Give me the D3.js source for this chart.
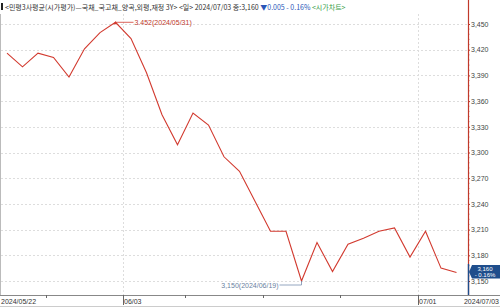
<!DOCTYPE html>
<html><head><meta charset="utf-8">
<script src="https://cdn.jsdelivr.net/npm/d3@7/dist/d3.min.js"></script>
<style>body{margin:0;background:#fff;}svg{display:block;}</style>
</head><body>
<svg id="c" width="500" height="307"></svg>
<script>
const dates = ["2024/05/22","2024/05/23","2024/05/24","2024/05/27","2024/05/28","2024/05/29","2024/05/30","2024/05/31",
  "2024/06/03","2024/06/04","2024/06/05","2024/06/07","2024/06/10","2024/06/11","2024/06/12","2024/06/13","2024/06/14",
  "2024/06/17","2024/06/18","2024/06/19","2024/06/20","2024/06/21","2024/06/24","2024/06/25","2024/06/26","2024/06/27","2024/06/28",
  "2024/07/01","2024/07/02","2024/07/03"];
const values = [3416,3400,3416,3411,3388,3421,3440,3452,3433,3393,3344,3309,3346,3332,3295,3278,3243,3208,3208,3150,3195,3161,3193,3200,3208,3212,3178,3208,3165,3160];
const yTicks = [3150,3180,3210,3240,3270,3300,3330,3360,3390,3420,3450];
const xLabels = [{i:0,t:"2024/05/22"},{i:7.5,t:"06/03"},{i:26.5,t:"07/01"}];
const weekTicks = [2.5,11.5,16.5,21.5];
const monthGrid = [7.5,26.5];

const svg = d3.select("#c");
const x = d3.scaleLinear().domain([0, dates.length-1]).range([7, 456.5]);
const y = d3.scaleLinear().domain([3150, 3450]).range([281, 24]);
const fmt = v => d3.format(",")(v);
const axisX = 468, bottom = 295;

// borders
svg.append("line").attr("x1",0.5).attr("x2",0.5).attr("y1",14).attr("y2",bottom).attr("stroke","#bbb");
svg.append("line").attr("x1",0).attr("x2",500).attr("y1",bottom+0.5).attr("y2",bottom+0.5).attr("stroke","#888");
svg.append("line").attr("x1",0).attr("x2",500).attr("y1",306.5).attr("y2",306.5).attr("stroke","#ccc");

// grid
svg.append("g").selectAll("line").data(yTicks).join("line")
  .attr("x1",1).attr("x2",axisX).attr("y1",d=>Math.round(y(d))+0.5).attr("y2",d=>Math.round(y(d))+0.5)
  .attr("stroke","#ddd").attr("stroke-dasharray","2,2");
svg.append("g").selectAll("line").data(monthGrid).join("line")
  .attr("x1",d=>Math.round(x(d))+0.5).attr("x2",d=>Math.round(x(d))+0.5).attr("y1",14).attr("y2",bottom)
  .attr("stroke","#ddd").attr("stroke-dasharray","2,2");

// x axis ticks & labels
svg.append("g").selectAll("line").data(weekTicks).join("line")
  .attr("x1",d=>Math.round(x(d))+0.5).attr("x2",d=>Math.round(x(d))+0.5).attr("y1",bottom).attr("y2",bottom+3).attr("stroke","#666");
svg.append("g").selectAll("line").data(monthGrid).join("line")
  .attr("x1",d=>Math.round(x(d))+0.5).attr("x2",d=>Math.round(x(d))+0.5).attr("y1",bottom).attr("y2",bottom+10).attr("stroke","#666");
svg.append("g").selectAll("text").data(xLabels).join("text")
  .attr("x",d=>d.i===0?1:Math.round(x(d.i))+1).attr("y",304)
  .attr("font-family","Liberation Sans, Arial").attr("font-size",7).attr("fill","#333").text(d=>d.t);
svg.append("text").attr("x",499).attr("y",304).attr("text-anchor","end")
  .attr("font-family","Liberation Sans, Arial").attr("font-size",7).attr("fill","#333").text(dates[dates.length-1]);

// right axis
const ax = svg.append("g").attr("transform",`translate(${axisX},0)`)
  .call(d3.axisRight(y).tickValues(yTicks).tickFormat(fmt).tickSize(2).tickPadding(1));
ax.select(".domain").remove();
ax.selectAll(".tick line").attr("stroke","#c0392b");
ax.selectAll("text").attr("font-family","Liberation Sans, Arial").attr("font-size",7).attr("fill","#444");
// minor ticks
const minor = d3.range(3150,3456,6).filter(v=>v%30!==0);
svg.append("g").selectAll("line").data(minor).join("line")
  .attr("x1",axisX).attr("x2",axisX+1.5).attr("y1",d=>y(d)).attr("y2",d=>y(d)).attr("stroke","#c0392b").attr("stroke-width",0.6);
svg.append("line").attr("x1",axisX+0.5).attr("x2",axisX+0.5).attr("y1",0).attr("y2",bottom).attr("stroke","#c0392b").attr("stroke-width",1.2);

// line
svg.append("path").datum(values)
  .attr("d", d3.line().x((d,i)=>x(i)).y(d=>y(d)))
  .attr("fill","none").attr("stroke","#d23a2f").attr("stroke-width",1.1);

// max annotation
const iMax = values.indexOf(d3.max(values));
svg.append("path").attr("d",`M${x(iMax)-2},${y(values[iMax])+2} L${x(iMax)},${y(values[iMax])-1} L${x(iMax)+2},${y(values[iMax])+2}Z`).attr("fill","#d23a2f");
svg.append("line").attr("x1",x(iMax)).attr("x2",x(iMax)+18).attr("y1",y(values[iMax])).attr("y2",y(values[iMax])).attr("stroke","#d23a2f").attr("stroke-width",0.8);
svg.append("text").attr("x",x(iMax)+19).attr("y",y(values[iMax])+2.5)
  .attr("font-family","Liberation Sans, Arial").attr("font-size",7).attr("fill","#c0392b")
  .text((values[iMax]/1000).toFixed(3)+"("+dates[iMax]+")");

// min annotation
const iMin = values.indexOf(d3.min(values));
const ym = y(values[iMin])+4;
svg.append("path").attr("d",`M${x(iMin)},${y(values[iMin])} V${ym} H${x(iMin)-22}`).attr("fill","none").attr("stroke","#7a8fb0").attr("stroke-width",0.8);
svg.append("text").attr("x",x(iMin)-23).attr("y",ym+2.5).attr("text-anchor","end")
  .attr("font-family","Liberation Sans, Arial").attr("font-size",7).attr("fill","#6a7fa0")
  .text(fmt(values[iMin])+"("+dates[iMin]+")");

// current value marker
const last = values[values.length-1], prev = 3165;
const yl = y(last) - 0.5;
svg.append("line").attr("x1",axisX+0.5).attr("x2",axisX+0.5).attr("y1",yl-8).attr("y2",bottom).attr("stroke","#1f4e8c").attr("stroke-width",1.4);
svg.append("path").attr("d",`M${axisX+1},${yl} L${axisX+4},${yl-7} H500 V${yl+6.5} H${axisX+4}Z`).attr("fill","#1f4e8c");
svg.append("text").attr("x",485).attr("y",yl-1.2).attr("text-anchor","middle").attr("font-family","Liberation Sans, Arial").attr("font-size",6).attr("fill","#fff").text(fmt(last));
svg.append("text").attr("x",485).attr("y",yl+5).attr("text-anchor","middle").attr("font-family","Liberation Sans, Arial").attr("font-size",6).attr("fill","#fff").text("- "+((prev-last)/prev*100).toFixed(2)+"%");

// header
svg.append("rect").attr("x",1).attr("y",3).attr("width",2).attr("height",7).attr("fill","#222");
const h = svg.append("text").attr("x",5).attr("y",10).attr("font-family","Noto Sans CJK KR").attr("font-size",7).attr("fill","#333");
h.append("tspan").text("<민평3사평균(시가평가)—국채_국고채_양곡,외평,재정 3Y> <일> 2024/07/03 종:3,160 ");
h.append("tspan").attr("fill","#2a56b8").text("▼0.005");
h.append("tspan").attr("fill","#2a56b8").text(" - 0.16% ");
h.append("tspan").attr("fill","#3aa04a").text("<시가차트>");
</script>
</body></html>
